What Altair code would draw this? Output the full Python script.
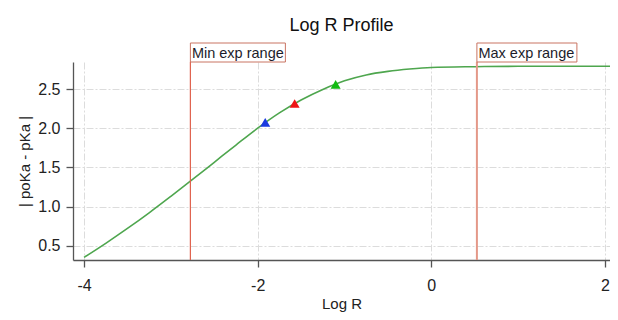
import altair as alt
import pandas as pd

# Curve (Log R vs |poKa - pKa|)
curve_x = [-4.0, -3.75, -3.5, -3.25, -3.0, -2.75, -2.5, -2.25, -2.0, -1.75, -1.5,
           -1.25, -1.0, -0.75, -0.5, -0.25, 0.0, 0.5, 1.0, 1.5, 2.0, 2.06]
curve_y = [0.35, 0.53, 0.72, 0.92, 1.13, 1.345, 1.565, 1.785, 2.00, 2.195, 2.36,
           2.495, 2.605, 2.68, 2.725, 2.755, 2.775, 2.785, 2.79, 2.79, 2.79, 2.79]

# Highlighted points
marker_x = [-1.913, -1.574, -1.102]
marker_y = [2.075, 2.315, 2.56]
marker_id = ["p1", "p2", "p3"]
marker_colors = ["#1a3ae0", "#ee1515", "#12bb12"]

# Experimental range lines
range_x = [-2.775, 0.525]
range_labels = ["Min exp range", "Max exp range"]

FONT = "Liberation Sans"

curve_df = pd.DataFrame({"x": curve_x, "y": curve_y})
marker_df = pd.DataFrame({"x": marker_x, "y": marker_y, "id": marker_id})

xscale = alt.Scale(domain=[-4.127, 2.058], nice=False, zero=False)
yscale = alt.Scale(domain=[0.317, 2.845], nice=False, zero=False)

x_axis = alt.Axis(values=[-4, -2, 0, 2], title="Log R",
                  labelExpr="datum.value < 0 ? '-' + abs(datum.value) : '' + datum.value")
y_axis = alt.Axis(values=[0.5, 1.0, 1.5, 2.0, 2.5], format=".1f", title="| poKa - pKa |")

line = alt.Chart(curve_df).mark_line(color="#4ea64e", strokeWidth=1.6, interpolate="monotone").encode(
    x=alt.X("x:Q", scale=xscale, axis=x_axis),
    y=alt.Y("y:Q", scale=yscale, axis=y_axis),
)

points = alt.Chart(marker_df).mark_point(shape="triangle-up", filled=True, size=100, opacity=1).encode(
    x=alt.X("x:Q", scale=xscale),
    y=alt.Y("y:Q", scale=yscale),
    color=alt.Color("id:N", scale=alt.Scale(domain=marker_id, range=marker_colors), legend=None),
)

# per-annotation drawing styles (line colour, line width, label box width in px)
ann_styles = [("#e0624e", 1.2, 95), ("#e49888", 2.0, 100)]

layers = [line]
for val, lab, (col, lw, bw) in zip(range_x, range_labels, ann_styles):
    d = pd.DataFrame({"x": [val], "label": [lab]})
    rule = alt.Chart(d).mark_rule(color=col, strokeWidth=lw).encode(
        x=alt.X("x:Q", scale=xscale),
    )
    box = alt.Chart(d).mark_rect(fill="white", stroke="#c97462", strokeWidth=1, x2Offset=bw).encode(
        x=alt.X("x:Q", scale=xscale),
        x2="x:Q",
        y=alt.value(-19),
        y2=alt.value(0),
    )
    txt = alt.Chart(d).mark_text(align="left", baseline="alphabetic", dx=1.5, font=FONT,
                                 fontSize=14.5, color="#1c1c2a").encode(
        x=alt.X("x:Q", scale=xscale),
        y=alt.value(-4),
        text="label:N",
    )
    layers += [rule, box, txt]
layers.append(points)

chart = alt.layer(*layers).properties(
    width=537,
    height=198,
    title=alt.TitleParams("Log R Profile", fontSize=18, font=FONT, fontWeight="normal",
                          color="#111", anchor="middle", offset=8),
    autosize=alt.AutoSizeParams(type="none"),
    padding={"left": 65, "top": 54, "right": 0, "bottom": 52},
).configure_view(stroke="transparent").configure_axis(
    labelFont=FONT, titleFont=FONT, labelFontSize=16, titleFontSize=15,
    labelColor="#222", titleColor="#222", titleFontWeight="normal",
    domainColor="#555", domainWidth=1.3, tickColor="#555", tickWidth=1.3, tickSize=7,
    gridColor="#dcdcdc", gridWidth=1, gridDash=[7, 2, 2, 2],
).configure_axisX(titlePadding=3, labelPadding=10).configure_axisY(titlePadding=5, labelPadding=6)

chart.save("out.html", embed_options={"renderer": "svg", "actions": False})
